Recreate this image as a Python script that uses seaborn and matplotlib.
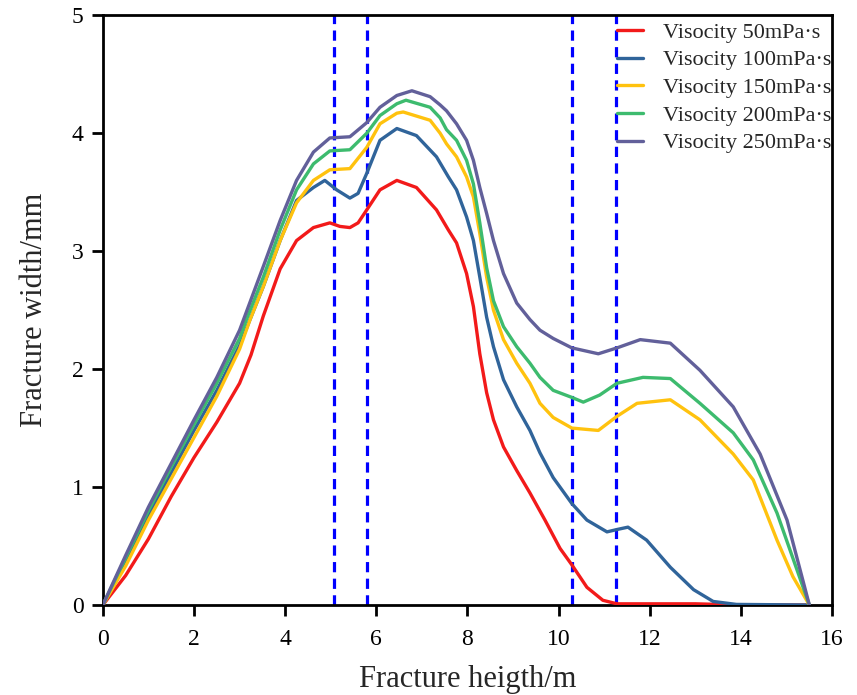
import numpy as np
import pandas as pd
import matplotlib
matplotlib.use("Agg")
import matplotlib.pyplot as plt
import seaborn as sns

labels = ["Visocity 50mPa·s", "Visocity 100mPa·s", "Visocity 150mPa·s",
          "Visocity 200mPa·s", "Visocity 250mPa·s"]
colors = ["#F21A1A", "#30649A", "#FFC20E", "#3DBB6E", "#62609A"]

x_50 = [0, 0.5, 1, 1.5, 2, 2.5, 3, 3.25, 3.52, 3.89, 4.25, 4.62, 4.98, 5.2, 5.42,
        5.6, 5.79, 6.08, 6.45, 6.88, 7.32, 7.58, 7.76, 7.98, 8.13, 8.27, 8.42,
        8.57, 8.79, 9.08, 9.37, 9.7, 10.03, 10.29, 10.62, 10.97, 11.28, 12, 13,
        13.5, 14, 15.5]
y_50 = [0, 0.25, 0.56, 0.92, 1.25, 1.55, 1.88, 2.12, 2.45, 2.85, 3.09, 3.20, 3.24,
        3.21, 3.20, 3.24, 3.35, 3.52, 3.60, 3.54, 3.35, 3.18, 3.07, 2.81, 2.53,
        2.13, 1.80, 1.57, 1.34, 1.14, 0.95, 0.72, 0.48, 0.34, 0.15, 0.04, 0.01,
        0.01, 0.01, 0.005, 0.0, 0.0]

x_100 = [0, 0.5, 1, 1.5, 2, 2.5, 3, 3.52, 3.89, 4.25, 4.62, 4.87, 5.13, 5.42, 5.6,
         5.79, 6.08, 6.45, 6.88, 7.32, 7.58, 7.76, 7.98, 8.13, 8.27, 8.42, 8.57,
         8.79, 9.08, 9.37, 9.59, 9.88, 10.29, 10.62, 11.06, 11.28, 11.52, 11.93,
         12.45, 12.96, 13.39, 13.9, 15.5]
y_100 = [0, 0.36, 0.76, 1.12, 1.48, 1.82, 2.2, 2.70, 3.09, 3.43, 3.54, 3.60, 3.52,
         3.45, 3.49, 3.66, 3.94, 4.04, 3.98, 3.80, 3.63, 3.52, 3.29, 3.09, 2.78,
         2.44, 2.19, 1.91, 1.68, 1.48, 1.29, 1.08, 0.86, 0.72, 0.62, 0.64, 0.66,
         0.55, 0.32, 0.13, 0.03, 0.005, 0.0]

x_150 = [0, 0.5, 1, 1.5, 2, 2.5, 3, 3.23, 3.52, 3.89, 4.25, 4.62, 4.98, 5.42, 5.79,
         6.08, 6.45, 6.59, 7.18, 7.4, 7.54, 7.76, 7.98, 8.13, 8.27, 8.42, 8.57,
         8.79, 9.08, 9.37, 9.59, 9.88, 10.29, 10.87, 11.28, 11.72, 12.45, 13.1,
         13.83, 14.27, 14.79, 15.14, 15.5]
y_150 = [0, 0.33, 0.72, 1.07, 1.42, 1.77, 2.17, 2.42, 2.70, 3.09, 3.41, 3.60, 3.69,
         3.70, 3.88, 4.08, 4.17, 4.18, 4.11, 4.0, 3.91, 3.80, 3.63, 3.46, 3.15,
         2.78, 2.50, 2.25, 2.05, 1.88, 1.71, 1.59, 1.50, 1.48, 1.60, 1.71, 1.74,
         1.57, 1.28, 1.06, 0.55, 0.24, 0.0]

x_200 = [0, 0.5, 1, 1.5, 2, 2.5, 3, 3.15, 3.52, 3.89, 4.25, 4.62, 4.98, 5.42, 5.79,
         6.08, 6.45, 6.65, 7.18, 7.4, 7.54, 7.76, 7.98, 8.13, 8.27, 8.42, 8.57,
         8.79, 9.08, 9.37, 9.59, 9.88, 10.29, 10.54, 10.9, 11.28, 11.85, 12.45,
         13.1, 13.83, 14.27, 14.79, 15.5]
y_200 = [0, 0.40, 0.80, 1.17, 1.53, 1.88, 2.26, 2.42, 2.78, 3.18, 3.52, 3.74, 3.85,
         3.86, 4.0, 4.15, 4.25, 4.28, 4.22, 4.13, 4.03, 3.94, 3.77, 3.57, 3.24,
         2.86, 2.58, 2.36, 2.19, 2.05, 1.93, 1.82, 1.76, 1.72, 1.78, 1.88, 1.93,
         1.92, 1.71, 1.46, 1.23, 0.78, 0.0]

x_250 = [0, 0.5, 1, 1.5, 2, 2.5, 3, 3.52, 3.89, 4.25, 4.62, 4.98, 5.42, 5.79, 6.08,
         6.45, 6.78, 7.18, 7.4, 7.54, 7.76, 7.98, 8.13, 8.27, 8.42, 8.57, 8.79,
         9.08, 9.37, 9.59, 9.88, 10.29, 10.87, 11.28, 11.79, 12.45, 13.1, 13.83,
         14.42, 15.01, 15.5]
y_250 = [0, 0.42, 0.83, 1.20, 1.57, 1.93, 2.33, 2.87, 3.26, 3.60, 3.84, 3.96, 3.97,
         4.09, 4.22, 4.32, 4.36, 4.31, 4.24, 4.19, 4.08, 3.94, 3.77, 3.54, 3.32,
         3.09, 2.81, 2.56, 2.42, 2.33, 2.26, 2.18, 2.13, 2.18, 2.25, 2.22, 1.99,
         1.68, 1.28, 0.72, 0.0]

boundaries = [5.07, 5.79, 10.29, 11.26]

xs = [x_50, x_100, x_150, x_200, x_250]
ys = [y_50, y_100, y_150, y_200, y_250]
frames = []
for lab, xv, yv in zip(labels, xs, ys):
    frames.append(pd.DataFrame({"x": xv, "y": yv, "series": lab}))
df = pd.concat(frames, ignore_index=True)

sns.set_style("ticks")
plt.rcParams["font.family"] = ["Liberation Serif", "DejaVu Serif"]

fig = plt.figure(figsize=(8.57, 6.95), dpi=100)
ax = fig.add_axes([0.120, 0.1295, 0.851, 0.8485])

for b in boundaries:
    ax.axvline(b, color="#0000FF", lw=2.3, linestyle=(0, (3.2, 2.0)), zorder=1)

sns.lineplot(data=df, x="x", y="y", hue="series", hue_order=labels,
             palette=dict(zip(labels, colors)), sort=False, estimator=None,
             lw=2.4, ax=ax, zorder=3)
for ln in ax.get_lines():
    ln.set_solid_joinstyle("round")

ax.set_xlim(0, 16)
ax.set_ylim(0, 5)
ax.set_xticks(np.arange(0, 17, 2))
ax.set_yticks(np.arange(0, 6, 1))
ax.set_xlabel("Fracture heigth/m", fontsize=22, labelpad=11)
ax.set_ylabel("Fracture width/mm", fontsize=22, labelpad=16)
ax.tick_params(axis="both", direction="out", length=8, width=2.0,
               labelsize=17, colors="black", pad=6)
ax.tick_params(axis="x", pad=9)
for s in ax.spines.values():
    s.set_linewidth(2.0)
    s.set_color("black")
    s.set_visible(True)

leg = ax.legend(loc="upper right", bbox_to_anchor=(1.003, 0.994), frameon=False,
                fontsize=16, handlelength=1.15, handletextpad=0.9,
                labelspacing=0.32, borderaxespad=0.0, borderpad=0.15)
for h in leg.get_lines():
    h.set_linewidth(2.4)

fig.savefig("out.png", dpi=100)
